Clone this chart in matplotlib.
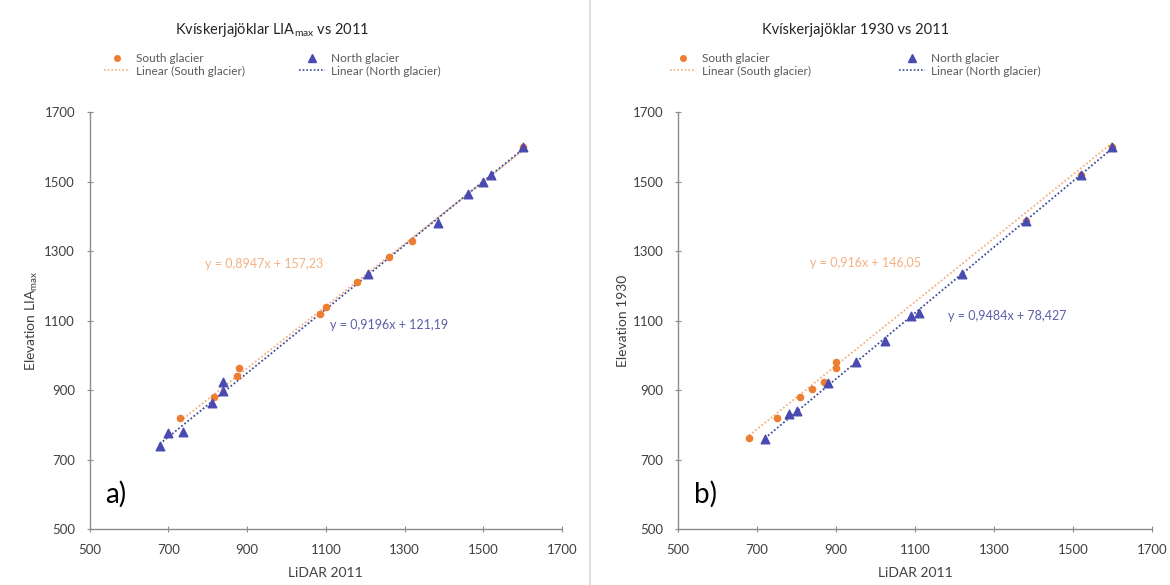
import numpy as np
import matplotlib.pyplot as plt
from matplotlib.lines import Line2D

plt.rcParams['font.family'] = ['Lato', 'DejaVu Sans']

# Panel a) LIA max vs 2011
a_south_x = [730, 815, 875, 880, 1085, 1100, 1180, 1260, 1320, 1600]
a_south_y = [820, 880, 940, 962, 1120, 1140, 1210, 1282, 1330, 1600]
a_north_x = [678, 698, 738, 812, 838, 840, 1208, 1385, 1460, 1500, 1520, 1600]
a_north_y = [740, 775, 780, 862, 898, 922, 1235, 1380, 1465, 1500, 1520, 1600]
a_fit_south = (0.8947, 157.23)
a_fit_north = (0.9196, 121.19)

# Panel b) 1930 vs 2011
b_south_x = [680, 750, 810, 840, 870, 900, 900, 1380, 1520, 1600]
b_south_y = [762, 820, 880, 902, 922, 962, 982, 1386, 1520, 1600]
b_north_x = [720, 780, 800, 880, 950, 1025, 1090, 1110, 1220, 1380, 1520, 1600]
b_north_y = [760, 830, 840, 920, 980, 1040, 1112, 1122, 1235, 1386, 1520, 1600]
b_fit_south = (0.916, 146.05)
b_fit_north = (0.9484, 78.427)

ticks = [500, 700, 900, 1100, 1300, 1500, 1700]

orange = '#ED7D31'
blue = '#4A4BB0'

fig = plt.figure(figsize=(11.7, 5.85), dpi=100)
ax1 = fig.add_axes([0.0766, 0.0957, 0.4038, 0.7128])
ax2 = fig.add_axes([0.5795, 0.0957, 0.4051, 0.7128])

# divider between panels
fig.add_artist(Line2D([0.504, 0.504], [0.0, 1.0], color='#d9d9d9', lw=1.2))


def panel(ax, sx, sy, nx, ny, fit_s, fit_n, title, ylab, label,
          eq_s, eq_n, eq_s_pos, eq_n_pos, cx, colsp):
    ax.scatter(sx, sy, marker='o', s=20, color=orange, zorder=3)
    ax.scatter(nx, ny, marker='^', s=38, color=blue, zorder=3)
    xs = np.array([min(sx), max(sx)])
    xn = np.array([min(nx), max(nx)])
    ax.plot(xs, fit_s[0] * xs + fit_s[1], ls=(0, (1, 1.2)), lw=1.3,
            color='#F4B183', zorder=2)
    ax.plot(xn, fit_n[0] * xn + fit_n[1], ls=(0, (1, 1.2)), lw=1.3,
            color='#3E4C9A', zorder=2)

    ax.set_xlim(500, 1700)
    ax.set_ylim(500, 1700)
    ax.set_xticks(ticks)
    ax.set_yticks(ticks)
    for s in ['top', 'right']:
        ax.spines[s].set_visible(False)
    for s in ['left', 'bottom']:
        ax.spines[s].set_color('#8c8c8c')
        ax.spines[s].set_linewidth(1.0)
    ax.tick_params(direction='inout', length=5, color='#8c8c8c',
                   labelsize=9.5, labelcolor='#404040', pad=8)
    ax.set_xlabel('LiDAR 2011', fontsize=10, color='#404040', labelpad=8)
    ax.set_ylabel(ylab, fontsize=10, color='#404040', labelpad=3)

    ax.text(eq_s_pos[0], eq_s_pos[1], eq_s, color='#F4B183', fontsize=9,
            ha='left', va='center')
    ax.text(eq_n_pos[0], eq_n_pos[1], eq_n, color='#5B5FA8', fontsize=9,
            ha='left', va='center')
    ax.text(540, 600, label, fontsize=20, color='black', ha='left', va='center')

    fig.text(cx, 0.948, title, fontsize=10.5, color='#262626', ha='center',
             va='center')
    handles = [
        Line2D([], [], marker='o', ls='none', color=orange, markersize=4),
        Line2D([], [], ls=(0, (1, 1.2)), color='#F4B183', lw=1.2),
        Line2D([], [], marker='^', ls='none', color=blue, markersize=6),
        Line2D([], [], ls=(0, (1, 1.2)), color='#3E4C9A', lw=1.2),
    ]
    labels = ['South glacier', 'Linear (South glacier)',
              'North glacier', 'Linear (North glacier)']
    leg = fig.legend(handles, labels, loc='center', ncol=2,
                     bbox_to_anchor=(cx, 0.889), frameon=False, fontsize=8.5,
                     columnspacing=colsp, handlelength=2.2, handletextpad=0.5,
                     labelspacing=0.1)
    for t in leg.get_texts():
        t.set_color('#595959')


panel(ax1, a_south_x, a_south_y, a_north_x, a_north_y, a_fit_south,
      a_fit_north, 'Kvískerjajöklar LIA$_{\\mathregular{max}}$ vs 2011',
      'Elevation LIA$_{\\mathregular{max}}$', 'a)',
      'y = 0,8947x + 157,23', 'y = 0,9196x + 121,19',
      (793, 1262), (1110, 1088), 0.233, 4.6)
panel(ax2, b_south_x, b_south_y, b_north_x, b_north_y, b_fit_south,
      b_fit_north, 'Kvískerjajöklar 1930 vs 2011', 'Elevation 1930', 'b)',
      'y = 0,916x + 146,05', 'y = 0,9484x + 78,427',
      (834, 1265), (1183, 1112), 0.731, 7.4)

fig.savefig('out.png', dpi=100)
